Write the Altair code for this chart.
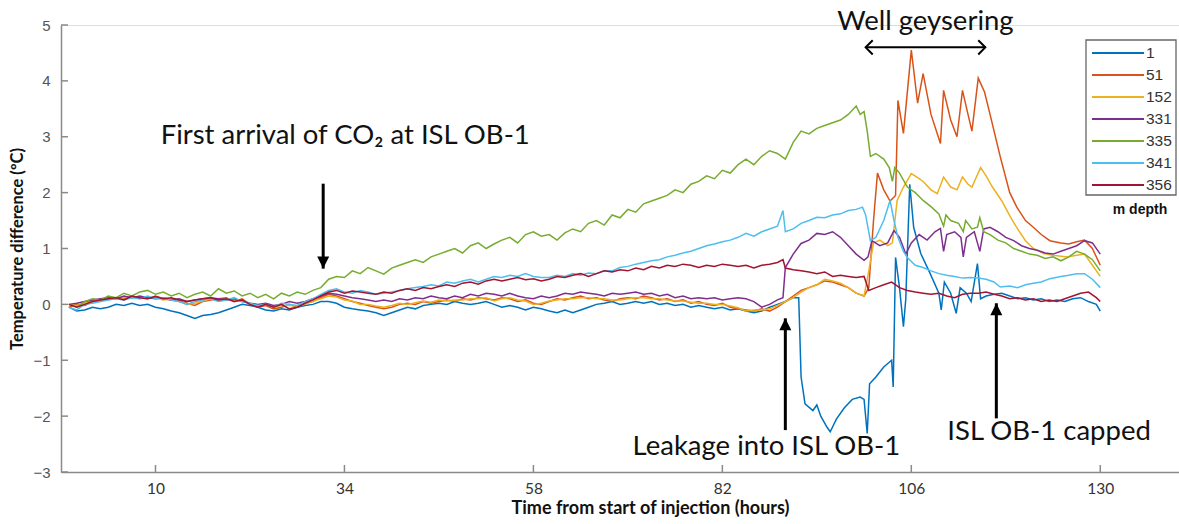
import altair as alt
import pandas as pd

# ---------------- data ----------------
DEPTHS = ["1", "51", "152", "331", "335", "341", "356"]
COLORS = ["#0072BD", "#D95319", "#EDB120", "#7E2F8E", "#77AC30", "#4DBEEE", "#A2142F"]

T_EARLY = list(range(-1, 90))  # hours -1 .. 89

D335_EARLY = [0.0, -0.05, 0.05, 0.1, 0.08, 0.15, 0.12, 0.2, 0.15, 0.22, 0.25,
              0.18, 0.22, 0.15, 0.2, 0.12, 0.18, 0.22, 0.15, 0.28, 0.2,
              0.24, 0.15, 0.2, 0.12, 0.18, 0.1, 0.2, 0.15, 0.22, 0.18,
              0.25, 0.3, 0.45, 0.5, 0.48, 0.6, 0.55, 0.66, 0.6, 0.54,
              0.65, 0.7, 0.75, 0.8, 0.75, 0.85, 0.9, 0.95, 1.0, 0.92,
              1.05, 1.1, 1.0, 1.08, 1.15, 1.2, 1.1, 1.25, 1.3, 1.22,
              1.25, 1.15, 1.28, 1.35, 1.3, 1.45, 1.5, 1.42, 1.6, 1.55,
              1.7, 1.65, 1.8, 1.85, 1.9, 1.95, 2.05, 2.0, 2.15, 2.2,
              2.3, 2.25, 2.4, 2.35, 2.5, 2.6, 2.5, 2.65, 2.75, 2.7]
D335_TAIL_T = [90, 91, 92, 93, 94, 95, 96, 97, 98, 99, 99.5, 100, 100.4, 100.8,
               101.5, 102.5, 103.2, 103.6, 103.9, 104.5, 105.5, 106.5, 107.5, 108.5,
               109.5, 110.1, 110.4, 111, 112, 112.6, 112.9, 113.7, 114.4, 114.7,
               115.2, 116, 117, 118, 119, 120, 121, 122, 123, 124, 125, 126, 127,
               128, 129, 130]
D335_TAIL_V = [2.6, 2.9, 3.1, 3.05, 3.15, 3.2, 3.25, 3.3, 3.4, 3.55, 3.4, 3.45, 3.1, 2.65,
               2.7, 2.6, 2.45, 2.2, 2.45, 2.35, 2.1, 2.0, 1.86, 1.75,
               1.62, 1.4, 1.6, 1.5, 1.45, 1.3, 1.5, 1.35, 1.38, 1.55,
               1.3, 1.25, 1.15, 1.1, 1.0, 0.95, 0.9, 0.88, 0.82, 0.85, 0.78, 0.85, 0.95,
               0.9, 0.8, 0.6]

D51_EARLY = [-0.05, 0.0, -0.02, 0.05, 0.08, 0.1, 0.12, 0.1, 0.15, 0.12, 0.1,
             0.15, 0.1, 0.08, 0.05, 0.02, -0.02, 0.05, 0.08, 0.1, 0.12,
             0.05, 0.1, 0.0, -0.05, -0.02, -0.08, -0.05, 0.0, -0.05, 0.02,
             0.05, 0.12, 0.18, 0.15, 0.1, 0.05, 0.02, -0.02, -0.05, -0.08,
             -0.05, 0.0, 0.02, 0.0, 0.05, 0.02, 0.05, 0.08, 0.05, 0.1,
             0.08, 0.12, 0.1, 0.08, 0.12, 0.1, 0.05, 0.08, 0.02, 0.0,
             0.05, 0.1, 0.08, 0.12, 0.15, 0.1, 0.12, 0.08, 0.05, 0.1,
             0.12, 0.1, 0.15, 0.12, 0.08, 0.1, 0.05, 0.08, 0.02, 0.05,
             0.0, -0.02, 0.02, -0.05, -0.08, -0.1, -0.12, -0.08, -0.12, -0.05]
D51_TAIL_T = [90, 91, 92, 93, 94, 95, 96, 97, 98, 99, 100, 100.6, 101.2, 101.7, 102.5,
              103.3, 104.0, 104.3, 105.0, 106.0, 106.8, 107.5, 108.5, 109.7, 110.1,
              111.0, 111.8, 112.5, 113.2, 113.7, 114.5, 115.3, 116, 117.3, 118.5,
              119.4, 120.5, 121.5, 122.5, 123.6, 125, 126, 127, 128, 129, 130]
D51_TAIL_V = [0.05, 0.15, 0.25, 0.3, 0.35, 0.42, 0.4, 0.35, 0.3, 0.2, 0.15, 0.3, 1.5, 2.35, 2.05,
              1.85, 1.95, 3.65, 3.06, 4.55, 3.6, 4.13, 3.4, 2.88, 3.83,
              3.3, 3.0, 3.83, 3.4, 3.1, 4.05, 3.8, 3.4, 2.64, 2.0,
              1.74, 1.5, 1.38, 1.25, 1.14, 1.1, 1.08, 1.12, 1.15, 1.0, 0.7]

D152_EARLY = [0.0, -0.02, 0.02, 0.06, 0.05, 0.12, 0.1, 0.12, 0.13, 0.1, 0.12,
              0.12, 0.08, 0.1, 0.06, 0.0, 0.02, 0.06, 0.1, 0.08, 0.1,
              0.06, 0.08, 0.02, -0.03, 0.0, -0.05, -0.02, -0.02, -0.03, 0.0,
              0.06, 0.1, 0.15, 0.13, 0.08, 0.06, 0.0, 0.0, -0.03, -0.05,
              -0.02, 0.02, 0.0, 0.03, 0.06, 0.04, 0.08, 0.06, 0.08, 0.08,
              0.1, 0.1, 0.12, 0.06, 0.1, 0.12, 0.08, 0.06, 0.0, 0.02,
              0.06, 0.08, 0.1, 0.1, 0.12, 0.12, 0.1, 0.1, 0.08, 0.08,
              0.1, 0.12, 0.12, 0.1, 0.1, 0.08, 0.06, 0.06, 0.04, 0.02,
              0.02, 0.0, 0.0, -0.03, -0.06, -0.12, -0.1, -0.1, -0.08, -0.02]
D152_TAIL_T = [90, 91, 92, 93, 94, 95, 96, 97, 98, 99, 100, 100.6, 101.2, 102, 103, 103.6,
               104.2, 105, 106, 107, 107.5, 108.5, 109.3, 110.1, 111, 111.8,
               112.5, 113.2, 113.7, 114.8, 115.5, 116.3, 117.5, 118.6, 119.5, 120.5,
               121.5, 122.8, 124, 125.8, 127, 128, 129, 130]
D152_TAIL_V = [0.05, 0.12, 0.22, 0.3, 0.35, 0.45, 0.42, 0.38, 0.3, 0.2, 0.15, 0.6, 1.1, 1.15, 1.05, 1.1,
               1.86, 2.1, 2.34, 2.25, 2.2, 2.05, 1.98, 2.28, 2.1, 2.05,
               2.28, 2.15, 2.1, 2.45, 2.3, 2.1, 1.85, 1.56, 1.35, 1.14,
               1.0, 0.91, 0.88, 0.85, 0.88, 0.9, 0.7, 0.5]

D331_EARLY = [0.0, 0.02, 0.05, 0.08, 0.1, 0.12, 0.1, 0.15, 0.12, 0.15, 0.12,
              0.1, 0.12, 0.08, 0.1, 0.05, 0.08, 0.1, 0.12, 0.1, 0.08,
              0.1, 0.05, 0.02, 0.0, 0.02, -0.02, 0.0, 0.05, 0.02, 0.05,
              0.1, 0.15, 0.2, 0.18, 0.15, 0.12, 0.1, 0.08, 0.05, 0.08,
              0.05, 0.1, 0.08, 0.12, 0.1, 0.15, 0.12, 0.1, 0.15, 0.12,
              0.18, 0.15, 0.2, 0.18, 0.15, 0.2, 0.15, 0.12, 0.1, 0.15,
              0.12, 0.15, 0.2, 0.18, 0.22, 0.2, 0.18, 0.15, 0.2, 0.18,
              0.2, 0.22, 0.18, 0.2, 0.15, 0.18, 0.12, 0.15, 0.1, 0.12,
              0.1, 0.12, 0.08, 0.1, 0.12, 0.1, 0.05, -0.05, 0.0, 0.08]
D331_TAIL_T = [89.7, 90, 91, 92, 93, 94, 95, 96, 97, 98, 99, 100, 100.5, 101, 102, 103,
               103.8, 104.5, 105.3, 106, 107, 108, 109, 109.7, 110.1, 110.5, 111.5,
               112.3, 112.6, 113, 114, 114.4, 114.7, 115.2, 116, 117, 118, 119, 120,
               121, 122, 123, 124, 125, 126, 127, 128, 129, 130]
D331_TAIL_V = [0.12, 0.66, 0.9, 1.09, 1.15, 1.27, 1.25, 1.3, 1.2, 1.05, 0.9, 0.79, 0.85, 1.14, 1.05, 1.1,
               1.32, 1.2, 0.9, 1.1, 1.25, 1.15, 1.3, 1.36, 0.95, 1.25, 1.3,
               1.2, 0.85, 1.2, 1.3, 1.1, 0.95, 1.35, 1.38, 1.3, 1.2, 1.14, 1.05,
               1.0, 0.97, 0.92, 0.9, 0.95, 1.0, 1.05, 1.14, 1.1, 0.9]

D341_EARLY = [-0.05, -0.1, 0.0, 0.02, 0.05, 0.08, 0.1, 0.08, 0.12, 0.1, 0.15,
              0.1, 0.12, 0.08, 0.05, 0.0, 0.05, 0.08, 0.1, 0.05, 0.08,
              0.12, 0.05, 0.02, -0.02, 0.0, -0.05, 0.02, 0.0, -0.02, 0.05,
              0.1, 0.18, 0.25, 0.28, 0.22, 0.2, 0.25, 0.22, 0.18, 0.2,
              0.22, 0.25, 0.28, 0.3, 0.32, 0.35, 0.33, 0.4, 0.38, 0.42,
              0.45, 0.4, 0.45, 0.5, 0.48, 0.52, 0.5, 0.55, 0.5, 0.48,
              0.48, 0.52, 0.5, 0.55, 0.52, 0.56, 0.55, 0.6, 0.6, 0.66,
              0.68, 0.72, 0.75, 0.78, 0.8, 0.85, 0.88, 0.92, 0.95, 1.0,
              1.05, 1.08, 1.12, 1.15, 1.2, 1.27, 1.22, 1.3, 1.35, 1.4]
D341_TAIL_T = [89.7, 90, 91, 92, 93, 94, 95, 96, 97, 98, 99, 99.8, 100.2, 100.8, 101.5,
               102.5, 103.3, 103.8, 104.3, 105, 105.5, 106.5, 107.5, 108.5, 109.5,
               110.5, 111.5, 112.5, 113.5, 114.5, 115.5, 116.5, 117.3, 118.5, 119.5,
               120.5, 121.5, 122.5, 123.6, 125, 126, 127, 128, 129, 130]
D341_TAIL_V = [1.68, 1.3, 1.35, 1.45, 1.5, 1.56, 1.55, 1.6, 1.62, 1.68, 1.7, 1.74, 1.6, 1.14, 1.2,
               1.5, 1.86, 1.5, 1.2, 0.95, 0.84, 0.7, 0.66, 0.6, 0.55,
               0.52, 0.5, 0.47, 0.48, 0.47, 0.45, 0.4, 0.31, 0.33, 0.3,
               0.35, 0.38, 0.4, 0.46, 0.5, 0.52, 0.55, 0.55, 0.45, 0.3]

D356_EARLY = [0.0, -0.05, 0.0, 0.05, 0.08, 0.1, 0.12, 0.08, 0.15, 0.12, 0.1,
              0.14, 0.1, 0.12, 0.08, 0.05, 0.08, 0.1, 0.12, 0.08, 0.1,
              0.05, 0.08, 0.0, -0.05, 0.0, -0.05, 0.0, -0.08, -0.05, 0.02,
              0.08, 0.15, 0.22, 0.25, 0.2, 0.24, 0.22, 0.2, 0.18, 0.22,
              0.2, 0.25, 0.28, 0.25, 0.3, 0.28, 0.32, 0.35, 0.32, 0.38,
              0.4, 0.36, 0.42, 0.45, 0.42, 0.45, 0.48, 0.44, 0.46, 0.42,
              0.45, 0.5, 0.48, 0.52, 0.55, 0.5, 0.55, 0.6, 0.58, 0.62,
              0.6, 0.65, 0.62, 0.68, 0.65, 0.7, 0.68, 0.72, 0.7, 0.66,
              0.7, 0.68, 0.72, 0.7, 0.68, 0.7, 0.65, 0.7, 0.72, 0.75]
D356_TAIL_T = [89.7, 90, 91, 92, 93, 94, 95, 96, 97, 98, 99, 100, 100.6,
               101.5, 102.5, 103.5, 104.5, 105.5, 106.5, 107.5, 108.5, 109.5, 110.5,
               111.5, 112.5, 113.5, 114.5, 115.5, 116.5, 117.5, 118.5, 119.5, 120.5,
               121.5, 122.5, 123.5, 124.5, 125.5, 126.5, 127.5, 128.5, 129.5, 130]
D356_TAIL_V = [0.8, 0.65, 0.62, 0.6, 0.58, 0.55, 0.58, 0.5, 0.52, 0.5, 0.48, 0.5, 0.25,
               0.3, 0.35, 0.4, 0.3, 0.25, 0.22, 0.2, 0.18, 0.2, 0.15,
               0.12, 0.18, 0.2, 0.2, 0.22, 0.18, 0.15, 0.1, 0.12, 0.08,
               0.1, 0.05, 0.08, 0.05, 0.1, 0.15, 0.2, 0.22, 0.12, 0.05]

D1_EARLY = [-0.05, -0.12, -0.1, -0.05, -0.08, -0.05, 0.0, -0.02, 0.02, -0.02, 0.0,
            -0.05, -0.08, -0.12, -0.15, -0.2, -0.25, -0.2, -0.18, -0.15, -0.1,
            -0.05, 0.0, -0.02, -0.05, -0.1, -0.12, -0.08, -0.1, -0.05, -0.02,
            0.0, 0.05, 0.05, 0.02, -0.05, -0.08, -0.1, -0.12, -0.15, -0.2,
            -0.15, -0.1, -0.05, -0.08, -0.02, 0.0, 0.02, 0.0, 0.05, 0.02,
            0.0, 0.02, 0.05, 0.0, -0.05, -0.02, -0.05, -0.1, -0.05, -0.08,
            -0.12, -0.15, -0.1, -0.15, -0.1, -0.05, 0.0, 0.02, 0.05, 0.0,
            0.02, 0.05, 0.02, 0.05, 0.0, 0.02, -0.02, 0.0, -0.05, -0.02,
            -0.05, -0.08, -0.05, -0.1, -0.08, -0.12, -0.15, -0.12, -0.05, 0.0]
D1_TAIL_T = [90, 91, 91.7, 92, 92.5, 93.5, 94, 94.5, 95.3, 95.7, 96.5, 97.5, 98.5, 99.5,
             100, 100.4, 100.7, 101.5, 102.5, 103.5, 103.7, 104.0, 104.5, 105.0, 105.3,
             105.8, 106.3, 107.2, 108.4, 109.5, 109.8, 110.2, 111.0, 111.7, 112.2,
             113.0, 113.6, 114.4, 114.8, 115.5, 116.5, 117.5, 118.5, 119.5, 120.5,
             121.5, 122.5, 123.5, 124.5, 125.5, 126.5, 127.5, 128.5, 129.5, 130]
D1_TAIL_V = [0.05, 0.12, 0.12, -1.3, -1.78, -1.9, -1.8, -2.0, -2.2, -2.28, -2.05, -1.85, -1.7, -1.66,
             -1.7, -2.31, -1.42, -1.3, -1.12, -1.0, -1.48, 0.84, 0.3, -0.4, 0.1,
             2.15, 1.38, 0.91, 0.55, 0.2, -0.1, 0.4, 0.2, -0.16, 0.3,
             0.2, 0.05, 0.73, 0.1, 0.15, 0.18, 0.2, 0.15, 0.1, 0.12,
             0.08, 0.1, 0.05, 0.08, 0.05, 0.1, 0.12, 0.05, 0.0, -0.12]

SERIES = {
    "1": (D1_EARLY, D1_TAIL_T, D1_TAIL_V),
    "51": (D51_EARLY, D51_TAIL_T, D51_TAIL_V),
    "152": (D152_EARLY, D152_TAIL_T, D152_TAIL_V),
    "331": (D331_EARLY, D331_TAIL_T, D331_TAIL_V),
    "335": (D335_EARLY, D335_TAIL_T, D335_TAIL_V),
    "341": (D341_EARLY, D341_TAIL_T, D341_TAIL_V),
    "356": (D356_EARLY, D356_TAIL_T, D356_TAIL_V),
}

X_TICKS = [10, 34, 58, 82, 106, 130]
Y_TICKS = [-3, -2, -1, 0, 1, 2, 3, 4, 5]

# ---------------- build table ----------------
rows = []
for d in DEPTHS:
    early, tt, tv = SERIES[d]
    assert len(early) == len(T_EARLY), d
    assert len(tt) == len(tv), d
    for t, v in zip(T_EARLY + tt, early + tv):
        rows.append({"hour": t, "value": v, "depth": d})
df = pd.DataFrame(rows)

W, H = 1118, 447
xs = alt.Scale(domain=[-2, 140], nice=False, zero=False)
ys = alt.Scale(domain=[-3, 5], nice=False, zero=False)
cs = alt.Scale(domain=DEPTHS, range=COLORS)
FONT = "Lato"

x_enc = alt.X("hour:Q", scale=xs, axis=alt.Axis(
    values=X_TICKS, format="d", grid=False, ticks=False, tickSize=0, labelFont=FONT,
    labelFontSize=15.5, labelColor="#333", labelPadding=9, domainColor="#8a8a8a",
    domainWidth=1.5, title="Time from start of injection (hours)", titleFont=FONT,
    titleFontSize=18, titleFontWeight="bold", titleColor="#111", titlePadding=3,
    titleX=589))
y_enc = alt.Y("value:Q", scale=ys, axis=alt.Axis(
    values=Y_TICKS, format="d", grid=False, ticks=False, tickSize=0,
    labelFont="Liberation Sans", labelFontSize=15, labelColor="#555", labelPadding=11,
    domainColor="#8a8a8a", domainWidth=1.5, title="Temperature difference (ºC)",
    titleFont=FONT, titleFontSize=16.5, titleFontWeight="bold", titleColor="#111",
    titlePadding=7))

lines = []
for d in DEPTHS:
    lines.append(alt.Chart(df).transform_filter(alt.datum.depth == d).mark_line(
        strokeWidth=1.5).encode(x=x_enc, y=y_enc,
                                color=alt.Color("depth:N", scale=cs, legend=None)))

# inward tick marks
ytick_df = pd.DataFrame({"v": Y_TICKS})
ytk = alt.Chart(ytick_df).mark_rule(color="#8a8a8a", strokeWidth=1.5).encode(
    y=alt.Y("v:Q", scale=ys), x=alt.value(0), x2=alt.value(7))
xtick_df = pd.DataFrame({"h": X_TICKS})
xtk = alt.Chart(xtick_df).mark_rule(color="#8a8a8a", strokeWidth=1.5).encode(
    x=alt.X("h:Q", scale=xs), y=alt.value(H), y2=alt.value(H - 7))

# annotations (data coordinates)
ARROWS = pd.DataFrame({
    "h": [31.3, 90.0, 116.8],
    "v1": [2.16, -2.25, -2.04],
    "v2": [0.64, -0.25, 0.02],
})
shafts = alt.Chart(ARROWS).mark_rule(color="black", strokeWidth=3).encode(
    x=alt.X("h:Q", scale=xs), y=alt.Y("v1:Q", scale=ys), y2="v2:Q")
heads_down = alt.Chart(ARROWS.iloc[[0]]).mark_point(
    shape="M-1,-2L1,-2L0,0Z", size=144, filled=True, color="black", opacity=1).encode(
    x=alt.X("h:Q", scale=xs), y=alt.Y("v2:Q", scale=ys))
heads_up = alt.Chart(ARROWS.iloc[[1, 2]]).mark_point(
    shape="M-1,2L1,2L0,0Z", size=144, filled=True, color="black", opacity=1).encode(
    x=alt.X("h:Q", scale=xs), y=alt.Y("v2:Q", scale=ys))

GEY = pd.DataFrame({"h1": [100.2], "h2": [115.4], "v": [4.6]})
gey_line = alt.Chart(GEY).mark_rule(color="black", strokeWidth=2).encode(
    x=alt.X("h1:Q", scale=xs), x2="h2:Q", y=alt.Y("v:Q", scale=ys))
gey_l = alt.Chart(GEY).mark_point(shape="M1,-1L0,0L1,1", size=200, filled=False,
                                  color="black", strokeWidth=2, opacity=1).encode(
    x=alt.X("h1:Q", scale=xs), y=alt.Y("v:Q", scale=ys))
gey_r = alt.Chart(GEY).mark_point(shape="M-1,-1L0,0L-1,1", size=200, filled=False,
                                  color="black", strokeWidth=2, opacity=1).encode(
    x=alt.X("h2:Q", scale=xs), y=alt.Y("v:Q", scale=ys))

LABELS = pd.DataFrame({
    "h": [107.8, 34.1, 87.6, 123.5],
    "v": [5.05, 3.02, -2.56, -2.29],
    "txt": ["Well geysering", "First arrival of CO₂ at ISL OB-1",
            "Leakage into ISL OB-1", "ISL OB-1 capped"],
})
labels = alt.Chart(LABELS).mark_text(font=FONT, fontSize=27.5, color="#111",
                                     baseline="middle", align="center").encode(
    x=alt.X("h:Q", scale=xs), y=alt.Y("v:Q", scale=ys), text="txt:N")

main = alt.layer(*lines, ytk, xtk, shafts, heads_down, heads_up, gey_line, gey_l, gey_r,
                 labels)

# ---------------- hand-built legend (boxed, MATLAB style) ----------------
leg_df = pd.DataFrame({"depth": DEPTHS})
ly = alt.Scale(type="point", domain=DEPTHS, range=[28, 160], padding=0)
leg_box = alt.Chart(pd.DataFrame({"k": [0]})).mark_rect(
    fill="white", stroke="#666", strokeWidth=1.3).encode(
    x=alt.value(1025), x2=alt.value(1115), y=alt.value(15), y2=alt.value(170))
leg_rules = alt.Chart(leg_df).mark_rule(strokeWidth=2).encode(
    y=alt.Y("depth:N", scale=ly, axis=None), x=alt.value(1031), x2=alt.value(1083),
    color=alt.Color("depth:N", scale=cs, legend=None))
leg_text = alt.Chart(leg_df).mark_text(
    align="left", baseline="middle", font="Liberation Sans", fontSize=15.5,
    color="#333").encode(y=alt.Y("depth:N", scale=ly, axis=None), x=alt.value(1085),
                         text="depth:N")
mdepth = alt.Chart(pd.DataFrame({"txt": ["m depth"]})).mark_text(
    font="Liberation Sans", fontSize=14, fontWeight="bold", color="#111",
    baseline="middle", align="center").encode(
    x=alt.value(1079), y=alt.value(185), text="txt:N")
legend = alt.layer(leg_box, leg_rules, leg_text, mdepth)

chart = alt.layer(main, legend).resolve_scale(y="independent").properties(
    width=W, height=H,
    padding={"left": 61, "top": 25, "right": 0, "bottom": 52},
    autosize=alt.AutoSizeParams(type="none"),
).configure_view(stroke=None).configure(background="white")

chart.save("out.html", embed_options={"renderer": "svg", "actions": False})
